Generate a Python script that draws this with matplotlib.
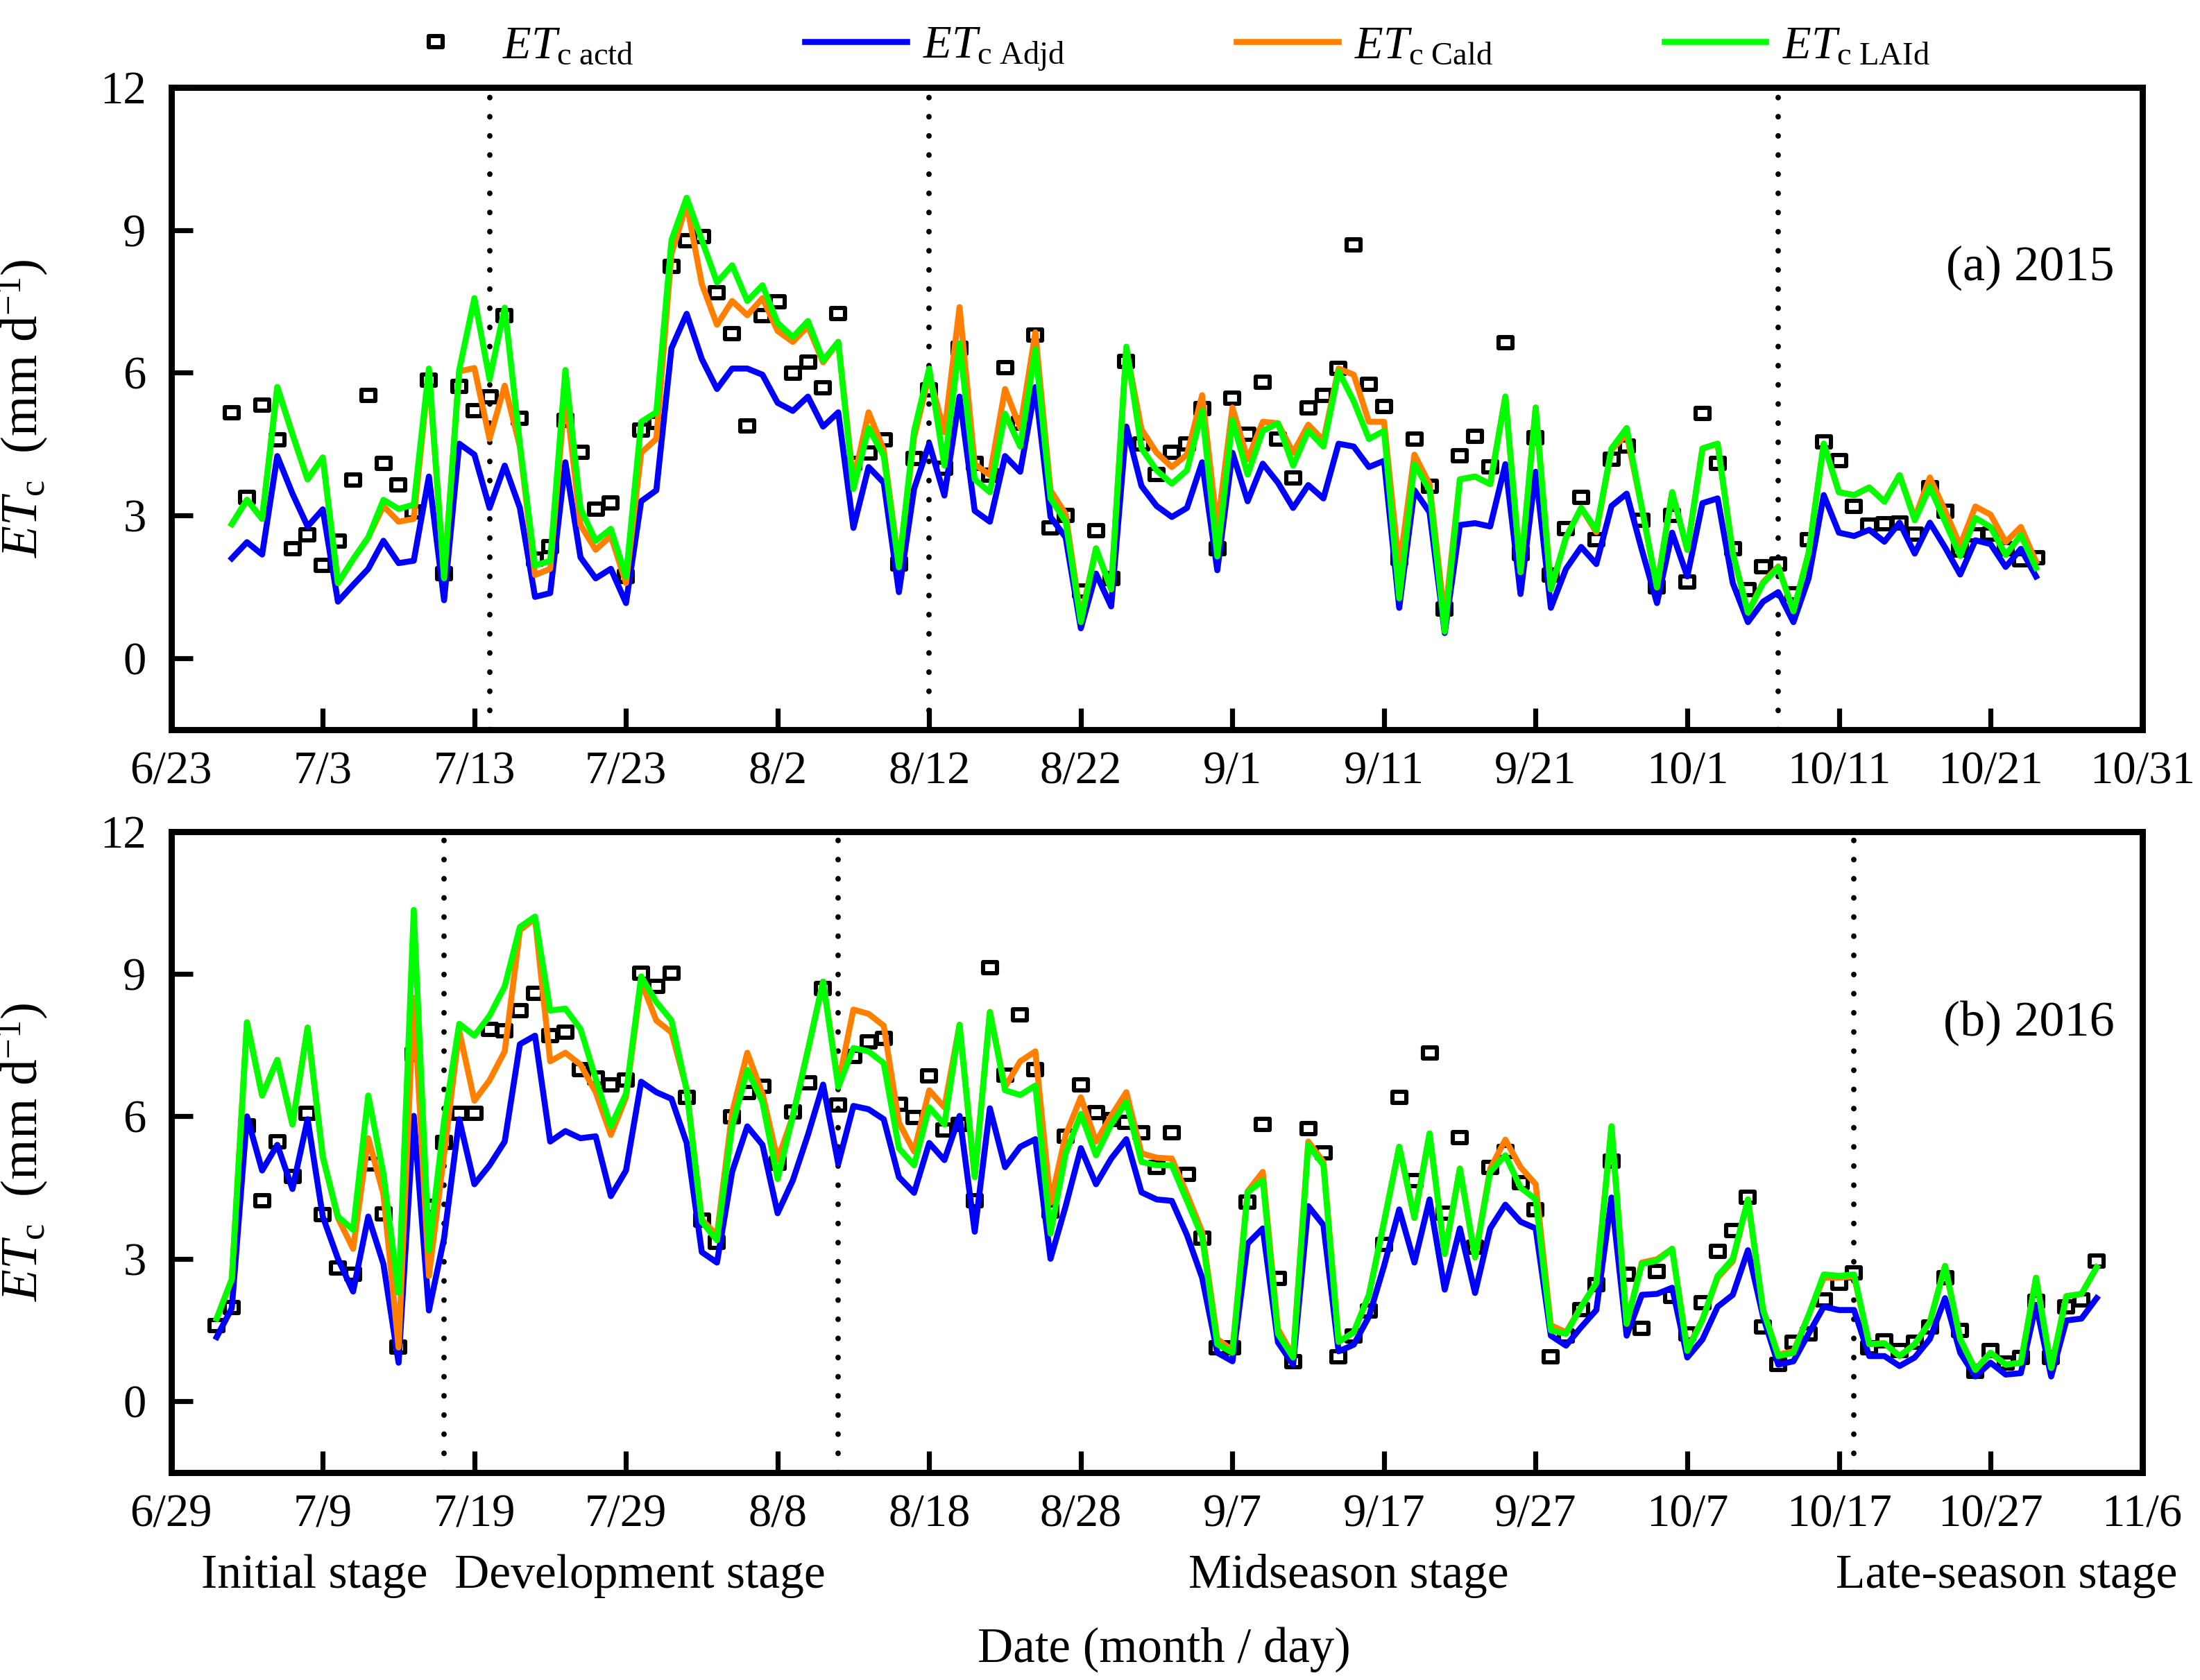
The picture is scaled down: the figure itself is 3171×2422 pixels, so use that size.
import numpy as np
import matplotlib
matplotlib.use('Agg')
import matplotlib.pyplot as plt
from matplotlib.lines import Line2D
from matplotlib.path import Path

plt.rcParams['font.family'] = ['Liberation Serif', 'DejaVu Serif']
plt.rcParams['mathtext.fontset'] = 'custom'
plt.rcParams['mathtext.rm'] = 'Liberation Serif'
plt.rcParams['mathtext.it'] = 'Liberation Serif:italic'
plt.rcParams['mathtext.bf'] = 'Liberation Serif:bold'

# ---------------- data ----------------
# panel (a) 2015: day offset from 6/23, first value on day 4 (6/27)
start_a = 4
ticks_a = ['6/23', '7/3', '7/13', '7/23', '8/2', '8/12', '8/22', '9/1',
           '9/11', '9/21', '10/1', '10/11', '10/21', '10/31']
stages_a = [21, 50, 106]

act_a = [5.16, 3.38, 5.32, 4.59, 2.31, 2.59, 1.95, 2.46, 3.74, 5.53,
         4.10, 3.64, 3.07, 5.84, 1.78, 5.71, 5.20, 5.50, 7.20, 5.04,
         2.08, 2.34, 5.00, 4.33, 3.13, 3.26, 1.72, 4.80, 4.95, 8.24,
         8.78, 8.87, 7.69, 6.83, 4.89, 7.20, 7.49, 5.99, 6.22, 5.68,
         7.24, 4.10, 4.32, 4.59, 1.98, 4.20, 5.64, 4.00, 6.52, 4.10,
         3.85, 6.11, 4.94, 6.80, 2.74, 3.00, 1.42, 2.68, 1.68, 6.24,
         4.51, 3.86, 4.33, 4.51, 5.25, 2.30, 5.47, 4.71, 5.80, 4.61,
         3.79, 5.27, 5.53, 6.10, 8.69, 5.76, 5.29, 2.10, 4.61, 3.62,
         1.03, 4.26, 4.66, 4.03, 6.63, 2.20, 4.64, 1.75, 2.72, 3.38,
         2.50, 4.18, 4.46, 2.90, 1.50, 3.00, 1.60, 5.14, 4.10, 2.31,
         1.45, 1.93, 1.98, 1.35, 2.49, 4.55, 4.16, 3.20, 2.80, 2.83,
         2.85, 2.61, 3.58, 3.09, 2.28, 2.60, 2.61, 2.30, 2.07, 2.12]

adj_a = [2.10, 2.44, 2.18, 4.25, 3.46, 2.77, 3.13, 1.19, 1.54, 1.88,
         2.47, 2.00, 2.05, 3.82, 1.22, 4.51, 4.28, 3.16, 4.05, 3.16,
         1.29, 1.37, 4.12, 2.12, 1.68, 1.88, 1.16, 3.30, 3.53, 6.52,
         7.24, 6.29, 5.66, 6.09, 6.09, 5.96, 5.37, 5.20, 5.50, 4.87,
         5.17, 2.74, 4.02, 3.69, 1.39, 3.56, 4.51, 3.42, 5.50, 3.10,
         2.87, 4.25, 3.92, 5.70, 2.97, 2.54, 0.63, 1.78, 1.09, 4.87,
         3.62, 3.20, 2.97, 3.16, 4.12, 1.85, 4.32, 3.30, 4.09, 3.69,
         3.16, 3.64, 3.36, 4.51, 4.45, 4.02, 4.15, 1.06, 3.53, 3.07,
         0.53, 2.80, 2.84, 2.77, 4.08, 1.35, 3.92, 1.06, 1.88, 2.34,
         1.98, 3.20, 3.46, 2.28, 1.16, 2.64, 1.72, 3.26, 3.36, 1.58,
         0.76, 1.19, 1.39, 0.76, 1.68, 3.43, 2.64, 2.57, 2.70, 2.45,
         2.85, 2.20, 2.85, 2.33, 1.76, 2.48, 2.40, 1.92, 2.30, 1.72]

cal_a = [2.82, 3.33, 2.93, 5.70, 4.71, 3.76, 4.22, 1.58, 2.08, 2.54,
         3.20, 2.87, 2.93, 6.00, 1.70, 6.03, 6.10, 4.61, 5.73, 4.45,
         1.75, 1.88, 5.60, 2.80, 2.28, 2.57, 1.58, 4.32, 4.61, 8.50,
         9.55, 7.87, 7.01, 7.51, 7.21, 7.57, 6.88, 6.65, 6.98, 6.22,
         6.65, 3.72, 5.17, 4.38, 1.95, 4.64, 5.96, 4.75, 7.38, 4.08,
         3.85, 5.66, 4.84, 6.85, 3.53, 3.03, 0.83, 2.31, 1.45, 6.49,
         4.81, 4.32, 4.02, 4.28, 5.53, 2.74, 5.27, 4.18, 4.97, 4.94,
         4.32, 4.91, 4.58, 6.09, 5.96, 4.97, 4.97, 1.88, 4.28, 3.66,
         0.83, 3.76, 3.82, 3.66, 5.50, 1.81, 5.27, 1.45, 2.54, 3.16,
         2.65, 4.38, 4.71, 3.16, 1.49, 3.49, 2.28, 4.41, 4.51, 2.21,
         0.96, 1.60, 1.93, 0.99, 2.21, 4.51, 3.49, 3.43, 3.59, 3.30,
         3.85, 2.95, 3.80, 3.10, 2.37, 3.19, 3.02, 2.44, 2.76, 2.03]

lai_a = [2.82, 3.33, 2.93, 5.70, 4.71, 3.76, 4.22, 1.58, 2.08, 2.54,
         3.33, 3.14, 3.23, 6.09, 1.68, 6.06, 7.57, 5.86, 7.37, 4.50,
         1.95, 2.05, 6.06, 3.15, 2.47, 2.72, 1.72, 4.97, 5.17, 8.79,
         9.68, 8.79, 7.90, 8.26, 7.51, 7.84, 7.05, 6.75, 7.09, 6.26,
         6.65, 3.56, 4.84, 4.25, 1.91, 4.78, 6.09, 4.05, 6.62, 3.76,
         3.49, 5.14, 4.45, 6.49, 3.36, 2.87, 0.76, 2.31, 1.45, 6.55,
         4.41, 3.95, 3.67, 3.95, 5.20, 2.14, 5.01, 3.86, 4.78, 4.94,
         4.05, 4.78, 4.45, 6.03, 5.40, 4.61, 4.78, 1.26, 4.08, 3.53,
         0.56, 3.76, 3.82, 3.66, 5.50, 1.81, 5.27, 1.45, 2.54, 3.16,
         2.70, 4.41, 4.84, 3.16, 1.49, 3.49, 2.28, 4.41, 4.51, 2.21,
         0.96, 1.58, 1.91, 0.99, 2.21, 4.51, 3.49, 3.43, 3.59, 3.29,
         3.85, 2.90, 3.60, 2.87, 2.15, 2.95, 2.76, 2.17, 2.59, 1.90]

# panel (b) 2016: day offset from 6/29, first value on day 3 (7/2)
start_b = 3
ticks_b = ['6/29', '7/9', '7/19', '7/29', '8/8', '8/18', '8/28', '9/7',
           '9/17', '9/27', '10/7', '10/17', '10/27', '11/6']
stages_b = [18, 44, 111]

act_b = [1.60, 1.98, 5.80, 4.22, 5.47, 4.73, 6.06, 3.93, 2.80, 2.67,
         5.00, 3.94, 1.14, 7.30, 4.10, 5.45, 6.06, 6.06, 7.83, 7.80,
         8.23, 8.59, 7.70, 7.77, 6.98, 6.81, 6.67, 6.76, 9.02, 8.74,
         9.02, 6.40, 3.82, 3.35, 5.99, 6.50, 6.64, 5.02, 6.09, 6.71,
         8.70, 6.24, 7.26, 7.57, 7.65, 6.26, 5.97, 6.86, 5.72, 5.83,
         4.22, 9.13, 6.87, 8.14, 6.98, 4.00, 5.59, 6.67, 6.08, 5.94,
         5.87, 5.65, 4.93, 5.66, 4.78, 3.43, 1.12, 1.12, 4.20, 5.83,
         2.58, 0.84, 5.74, 5.23, 0.93, 1.38, 1.90, 3.30, 6.40, 4.65,
         7.34, 3.96, 5.56, 3.25, 4.93, 5.26, 4.61, 4.04, 0.93, 1.38,
         1.93, 2.46, 5.06, 2.67, 1.53, 2.74, 2.21, 1.42, 2.08, 3.15,
         3.60, 4.29, 1.56, 0.77, 1.24, 1.42, 2.13, 2.49, 2.71, 1.13,
         1.27, 1.06, 1.24, 1.56, 2.60, 1.49, 0.63, 1.06, 0.81, 0.92,
         2.10, 0.92, 1.99, 2.13, 2.95]

adj_b = [1.35, 1.96, 6.00, 4.86, 5.40, 4.47, 5.94, 3.89, 3.00, 2.31,
         3.89, 2.89, 0.81, 6.01, 1.91, 3.43, 5.94, 4.57, 4.97, 5.47,
         7.52, 7.70, 5.47, 5.69, 5.54, 5.58, 4.32, 4.86, 6.73, 6.51,
         6.37, 5.44, 3.14, 2.92, 4.83, 5.79, 5.40, 3.96, 4.65, 5.61,
         6.67, 5.00, 6.22, 6.15, 5.94, 4.72, 4.39, 5.44, 5.08, 6.01,
         3.57, 6.17, 4.93, 5.36, 5.52, 3.00, 4.11, 5.33, 4.57, 5.11,
         5.52, 4.40, 4.25, 4.22, 3.50, 2.60, 1.02, 0.84, 3.32, 3.64,
         1.24, 0.77, 4.11, 3.71, 1.05, 1.19, 1.78, 2.85, 4.04, 2.92,
         4.25, 2.35, 3.64, 2.28, 3.64, 4.14, 3.78, 3.64, 1.38, 1.17,
         1.56, 1.92, 4.29, 1.38, 2.24, 2.26, 2.39, 0.92, 1.30, 1.99,
         2.24, 3.18, 1.78, 0.77, 0.84, 1.42, 1.99, 1.92, 1.92, 0.95,
         0.95, 0.74, 0.92, 1.31, 2.17, 1.02, 0.52, 0.81, 0.56, 0.59,
         2.03, 0.52, 1.70, 1.74, 2.17]

cal_b = [1.74, 2.57, 7.98, 6.44, 7.19, 5.83, 7.87, 5.15, 3.86, 3.21,
         5.54, 4.36, 1.13, 8.50, 2.64, 5.20, 7.80, 6.33, 6.76, 7.37,
         9.92, 10.17, 7.16, 7.34, 7.09, 6.51, 5.61, 6.40, 8.84, 8.02,
         7.77, 6.58, 3.82, 3.50, 6.08, 7.34, 6.48, 5.08, 6.00, 7.40,
         8.84, 6.69, 8.25, 8.16, 7.91, 5.87, 5.26, 6.55, 6.19, 7.93,
         4.72, 8.20, 6.62, 7.16, 7.37, 4.18, 5.61, 6.40, 5.47, 6.01,
         6.51, 5.22, 5.13, 5.11, 4.36, 3.57, 1.31, 1.07, 4.42, 4.83,
         1.52, 0.95, 5.47, 5.04, 1.25, 1.45, 2.24, 3.78, 5.36, 3.86,
         5.64, 3.10, 4.90, 3.03, 4.90, 5.51, 4.93, 4.57, 1.60, 1.45,
         1.99, 2.49, 5.79, 1.63, 2.92, 2.99, 3.21, 1.10, 1.72, 2.60,
         2.95, 4.25, 1.92, 0.98, 1.05, 1.81, 2.60, 2.60, 2.63, 1.20,
         1.22, 0.95, 1.20, 1.67, 2.85, 1.31, 0.66, 1.02, 0.77, 0.81,
         2.60, 0.70, 2.21, 2.26, 2.82]

lai_b = [1.74, 2.57, 7.98, 6.44, 7.19, 5.83, 7.87, 5.15, 3.89, 3.61,
         6.44, 4.79, 2.28, 10.35, 3.18, 5.90, 7.95, 7.70, 8.12, 8.74,
         9.99, 10.21, 8.23, 8.27, 7.84, 6.80, 5.79, 6.48, 8.95, 8.41,
         8.02, 6.55, 3.78, 3.39, 5.79, 6.98, 6.30, 4.68, 6.00, 7.40,
         8.84, 6.62, 7.44, 7.37, 7.12, 5.33, 4.97, 6.19, 5.83, 7.93,
         4.72, 8.20, 6.55, 6.45, 6.65, 3.53, 5.22, 6.05, 5.18, 5.83,
         6.30, 5.04, 4.97, 4.97, 4.22, 3.46, 1.20, 1.02, 4.40, 4.65,
         1.42, 0.92, 5.40, 4.97, 1.25, 1.45, 2.24, 3.78, 5.36, 3.86,
         5.64, 3.10, 4.90, 3.03, 4.83, 5.18, 4.50, 4.25, 1.49, 1.42,
         1.99, 2.49, 5.79, 1.63, 2.89, 2.96, 3.21, 1.06, 1.72, 2.64,
         3.00, 4.25, 1.92, 0.95, 1.02, 1.81, 2.67, 2.64, 2.67, 1.20,
         1.22, 0.95, 1.20, 1.67, 2.85, 1.31, 0.66, 1.02, 0.77, 0.81,
         2.60, 0.70, 2.21, 2.26, 2.82]

stage_names = ['Initial stage', 'Development stage', 'Midseason stage', 'Late-season stage']
series_labels = [r'$\mathit{ET}_{\mathrm{c\ actd}}$', r'$\mathit{ET}_{\mathrm{c\ Adjd}}$',
                 r'$\mathit{ET}_{\mathrm{c\ Cald}}$', r'$\mathit{ET}_{\mathrm{c\ LAId}}$']

# ---------------- style ----------------
C_ADJ = '#0000FF'
C_CAL = '#FF8000'
C_LAI = '#00FF00'
LW = 3.1
rect = Path([(-0.6, -0.5), (0.6, -0.5), (0.6, 0.5), (-0.6, 0.5), (-0.6, -0.5)],
            [Path.MOVETO, Path.LINETO, Path.LINETO, Path.LINETO, Path.CLOSEPOLY])
MK = dict(ls='none', marker=rect, ms=7.2, mfc='none', mec='black', mew=2.2)

fig = plt.figure(figsize=(15.855, 12.11), dpi=200)
ax_a = fig.add_axes([0.0778, 0.5657, 0.8959, 0.3823])
ax_b = fig.add_axes([0.0778, 0.1236, 0.8959, 0.3814])


def draw(ax, start, act, adj, cal, lai, stages, ticklabels, label, label_y):
    x = np.arange(start, start + len(act))
    ax.plot(x, act, zorder=2, **MK)
    ax.plot(np.arange(start, start + len(adj)), adj, color=C_ADJ, lw=LW, zorder=3)
    ax.plot(np.arange(start, start + len(cal)), cal, color=C_CAL, lw=LW, zorder=4)
    ax.plot(np.arange(start, start + len(lai)), lai, color=C_LAI, lw=LW, zorder=5)
    for s in stages:
        ax.axvline(s, color='black', lw=2.8, ls=(0, (0.05, 3.5)),
                   dash_capstyle='round', zorder=1)
    ax.set_xlim(0, 130)
    ax.set_ylim(-1.5, 12)
    ax.set_xticks(np.arange(0, 131, 10))
    ax.set_xticklabels(ticklabels)
    ax.set_yticks([0, 3, 6, 9, 12])
    ax.tick_params(axis='both', direction='in', length=11, width=2.6,
                   labelsize=24, top=False, right=False)
    ax.tick_params(axis='x', pad=11)
    ax.tick_params(axis='y', pad=13)
    for sp in ax.spines.values():
        sp.set_linewidth(3.2)
    ax.set_ylabel(r'$\mathit{ET}_{\mathrm{c}}$  (mm d$^{-1}$)', fontsize=27)
    ax.yaxis.set_label_coords(-0.061, 0.5)
    ax.text(0.986, label_y, label, transform=ax.transAxes, ha='right',
            va='center', fontsize=26)


draw(ax_a, start_a, act_a, adj_a, cal_a, lai_a, stages_a, ticks_a, '(a) 2015', 0.7185)
draw(ax_b, start_b, act_b, adj_b, cal_b, lai_b, stages_b, ticks_b, '(b) 2016', 0.7007)

# stage names and x label
for name, xf in zip(stage_names, [0.143, 0.291, 0.613, 0.912]):
    fig.text(xf, 0.062, name, ha='center', va='center', fontsize=25)
fig.text(0.529, 0.018, 'Date (month / day)', ha='center', va='center', fontsize=25.5)

# legend
handles = [Line2D([], [], **MK),
           Line2D([], [], color=C_ADJ, lw=LW),
           Line2D([], [], color=C_CAL, lw=LW),
           Line2D([], [], color=C_LAI, lw=LW)]
fig.legend(handles, series_labels, loc='center', bbox_to_anchor=(0.526, 0.9707),
           ncol=4, frameon=False, fontsize=24, handlelength=2.2,
           handletextpad=0.35, columnspacing=3.7)

fig.savefig('out.png', dpi=200)
